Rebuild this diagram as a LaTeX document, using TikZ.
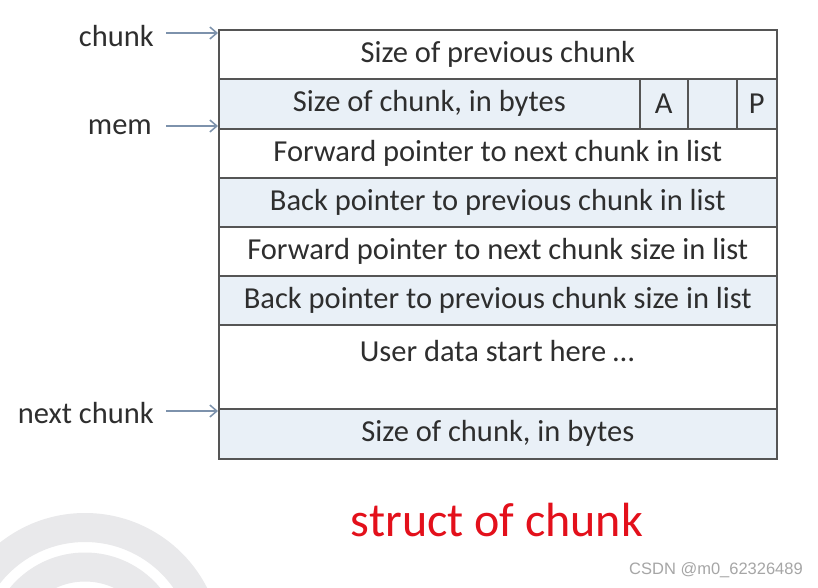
\documentclass[tikz,border=0pt]{standalone}
\usepackage{fontspec}
\setmainfont{Carlito}
\newfontfamily\wmfont{Liberation Sans}
\usetikzlibrary{arrows.meta}
\definecolor{rowblue}{HTML}{E9F0F7}
\definecolor{edgegray}{HTML}{555555}
\definecolor{txt}{HTML}{2E2E2E}
\definecolor{ptrblue}{HTML}{7D92AC}
\definecolor{titlered}{HTML}{E3101B}
\definecolor{wmgray}{HTML}{E9E9EB}
\tikzset{
  cell/.style={draw=edgegray, line width=1.6pt, anchor=north west, inner sep=0pt,
    text=txt, font=\fontsize{30.5}{34}\selectfont, minimum height=#1},
  cell/.default=49pt,
  blue/.style={fill=rowblue},
  plain/.style={fill=white},
  lbl/.style={anchor=east, text=txt, font=\fontsize{30.5}{34}\selectfont, inner sep=0pt},
  ptr/.style={draw=ptrblue, line width=1.5pt, -{Straight Barb[length=7pt,width=12pt]}},
}
\begin{document}
\begin{tikzpicture}[x=1pt,y=-1pt]
\useasboundingbox (0,0) rectangle (818,588);
\fill[white] (0,0) rectangle (818,588);
% watermark rings
\begin{scope}
\clip (0,0) rectangle (818,588);
\draw[wmgray, line width=29pt] (85,650) circle[radius=122.5];
\draw[wmgray, line width=29pt] (85,650) circle[radius=83];
\end{scope}
% rows
\node[cell, plain, minimum width=558pt] (r1) at (218,29) {Size of previous chunk};
\node[cell=50pt, blue, minimum width=421pt] (r2) at (218,78) {Size of chunk, in bytes};
\node[cell=50pt, blue, minimum width=48pt] (ra) at (639,78) {A};
\node[cell=50pt, blue, minimum width=49pt] (rb) at (687,78) {};
\node[cell=50pt, blue, minimum width=40pt] (rp) at (736,78) {P};
\node[cell, plain, minimum width=558pt] (r3) at (218,128) {Forward pointer to next chunk in list};
\node[cell, blue, minimum width=558pt] (r4) at (218,177) {Back pointer to previous chunk in list};
\node[cell, plain, minimum width=558pt] (r5) at (218,226) {Forward pointer to next chunk size in list};
\node[cell, blue, minimum width=558pt] (r6) at (218,275) {Back pointer to previous chunk size in list};
\node[cell=84pt, plain, minimum width=558pt] (r7) at (218,324) {};
\node[text=txt, font=\fontsize{30.5}{34}\selectfont, inner sep=0pt] (ud) at (497,351) {User data start here \dots};
\node[cell=50pt, blue, minimum width=558pt] (r8) at (218,408) {Size of chunk, in bytes};
% labels and pointers
\node[lbl] (lchunk) at (154,36) {chunk};
\node[lbl] (lmem) at (152,127) {mem};
\node[lbl] (lnext) at (154,413) {next chunk};
\coordinate (achunk) at (218,33);
\coordinate (amem) at (218,126);
\coordinate (anext) at (218,411);
\draw[ptr] ([xshift=12pt]lchunk.east |- achunk) -- (achunk);
\draw[ptr] ([xshift=14pt]lmem.east |- amem) -- (amem);
\draw[ptr] ([xshift=12pt]lnext.east |- anext) -- (anext);
% title
\node[text=titlered, font=\fontsize{48}{54}\selectfont, inner sep=0pt] (title) at (497,520) {struct of chunk};
% watermark text
\node[anchor=east, text=gray!70, font=\wmfont\fontsize{16.5}{18}\selectfont, inner sep=0pt] (wm) at (803,570) {CSDN @m0\_62326489};
\end{tikzpicture}
\end{document}
